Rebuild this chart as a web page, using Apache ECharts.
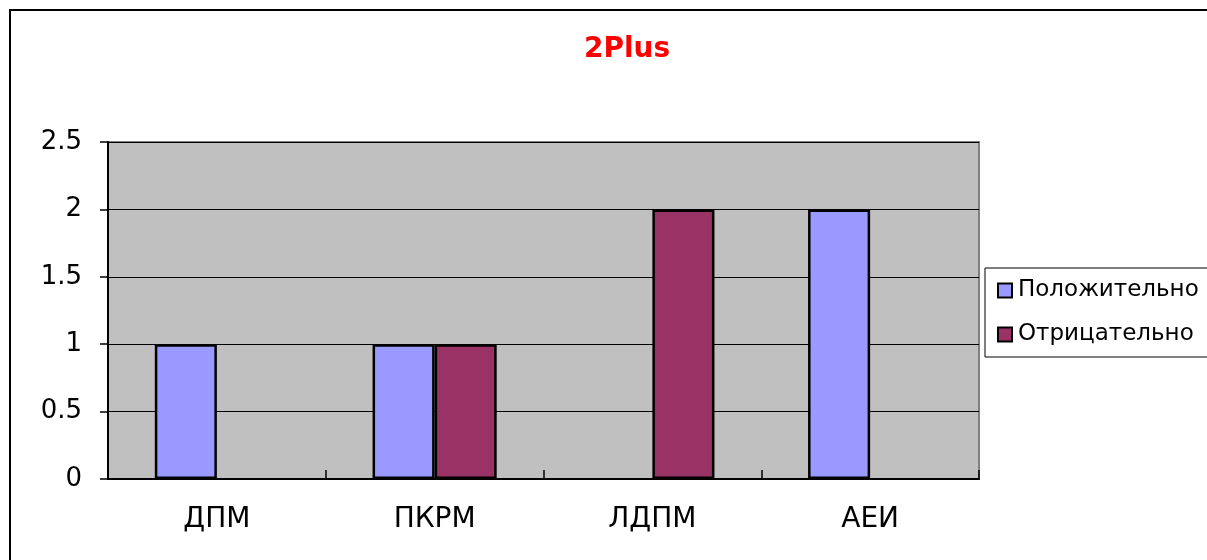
<!DOCTYPE html>
<html>
<head>
<meta charset="utf-8">
<script src="https://cdn.jsdelivr.net/npm/echarts@6/dist/echarts.min.js"></script>
<style>html,body{margin:0;padding:0;background:#fff}#c{width:1207px;height:560px}</style>
</head>
<body>
<div id="c"></div>
<script>
var titleText = '2Plus';
var categories = ['ДПМ', 'ПКРМ', 'ЛДПМ', 'АЕИ'];
var seriesNames = ['Положительно', 'Отрицательно'];
var positiveValues = [1, 1, 0, 2];
var negativeValues = [0, 1, 2, 0];
var yTicks = { min: 0, max: 2.5, interval: 0.5 };

// zero-height bars are left empty (slot kept) so no border stub is drawn
function barData(arr) { return arr.map(function (v) { return v === 0 ? null : v; }); }

var FONT = 'DejaVu Sans';
var chart = echarts.init(document.getElementById('c'), null, { renderer: 'canvas' });
chart.setOption({
  animation: false,
  backgroundColor: '#ffffff',
  title: {
    text: titleText,
    left: 584,
    top: 36,
    padding: 0,
    textStyle: { color: '#ff0000', fontFamily: FONT, fontWeight: 'bold', fontSize: 28 }
  },
  graphic: [{
    type: 'polyline',
    shape: { points: [[10, 600], [10, 10], [1300, 10]] },
    style: { fill: 'none', stroke: '#000', lineWidth: 2 },
    silent: true, z: 0
  }],
  legend: {
    orient: 'vertical',
    left: 985,
    top: 268,
    padding: [11, 30, 11, 12],
    itemGap: 21,
    itemWidth: 14,
    itemHeight: 14,
    icon: 'rect',
    borderColor: '#000',
    borderWidth: 1,
    backgroundColor: '#fff',
    textStyle: { fontFamily: FONT, fontSize: 23, color: '#000', padding: [0, 0, 0, 1] },
    itemStyle: { borderColor: '#000', borderWidth: 2 },
    data: seriesNames
  },
  grid: {
    left: 108, right: 228, top: 142, bottom: 81,
    show: true,
    backgroundColor: '#C0C0C0',
    borderColor: '#808080',
    borderWidth: 2
  },
  xAxis: {
    type: 'category',
    data: categories,
    axisLine: { lineStyle: { color: '#000', width: 2 } },
    axisTick: { show: true, inside: true, length: 9, lineStyle: { color: '#000', width: 1.5 } },
    axisLabel: { fontFamily: FONT, fontSize: 28, color: '#000', margin: 27 }
  },
  yAxis: {
    type: 'value',
    min: yTicks.min, max: yTicks.max, interval: yTicks.interval,
    axisLine: { show: true, lineStyle: { color: '#000', width: 2 } },
    axisTick: { show: true, length: 8, lineStyle: { color: '#000', width: 1.5 } },
    splitLine: { show: true, lineStyle: { color: '#000', width: 1.2 } },
    axisLabel: { fontFamily: FONT, fontSize: 26, color: '#000', margin: 26 }
  },
  series: [{
    name: seriesNames[0],
    type: 'bar',
    data: barData(positiveValues),
    barGap: '0%',
    barCategoryGap: '43%',
    itemStyle: { color: '#9999FF', borderColor: '#000', borderWidth: 2.5 }
  }, {
    name: seriesNames[1],
    type: 'bar',
    data: barData(negativeValues),
    barGap: '0%',
    barCategoryGap: '43%',
    itemStyle: { color: '#993366', borderColor: '#000', borderWidth: 2.5 }
  }]
});
</script>
</body>
</html>
